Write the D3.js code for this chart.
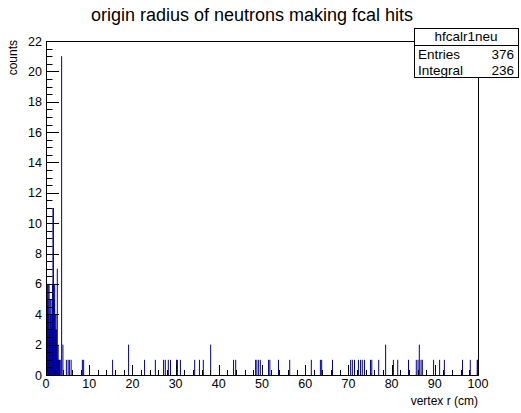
<!DOCTYPE html>
<html>
<head>
<meta charset="utf-8">
<script src="https://cdn.jsdelivr.net/npm/d3@7"></script>
<style>
  html, body { margin: 0; padding: 0; background: #fff; }
  svg { display: block; font-family: "Liberation Sans", Arial, Helvetica, sans-serif; }
</style>
</head>
<body>
<svg id="chart" width="521" height="413"></svg>
<script>
// Histogram hfcalr1neu: bin width 0.1 cm, lower bin edges (cm) and their contents
const binWidth = 0.1;
const binLow = [
  0.0, 0.1, 0.2, 0.3, 0.4, 0.5, 0.6, 0.7, 0.8, 0.9,
  1.0, 1.1, 1.2, 1.3, 1.4, 1.5, 1.6, 1.7, 1.8, 1.9,
  2.0, 2.1, 2.2, 2.3, 2.4, 2.5, 2.6, 2.7, 2.8, 2.9,
  3.0, 3.2, 3.5, 3.8,
  4.6, 5.0, 5.3, 5.7, 8.3, 8.6, 15.3, 19.0, 22.7, 25.2,
  27.1, 27.5, 28.2, 28.7, 30.1, 30.3, 31.0, 34.3, 35.4, 36.3,
  38.0, 43.3, 43.8, 48.4, 48.7, 49.1, 49.5, 51.4, 51.7, 53.7,
  56.3, 61.3, 63.4, 63.7, 66.2, 70.4, 70.8, 71.3, 72.2, 72.7,
  73.1, 73.6, 75.0, 75.3, 76.9, 78.5, 80.3, 81.3, 83.8, 85.6,
  86.0, 86.3, 86.7, 87.0, 89.6, 91.0, 92.1, 96.3, 98.1, 99.7,
  99.8
];
const counts = [
  2, 4, 6, 5, 6, 4, 6, 3, 5, 4,
  5, 3, 4, 5, 6, 11, 11, 6, 5, 6,
  4, 3, 4, 3, 2, 7, 1, 2, 1, 1,
  1, 1, 21, 2,
  1, 1, 1, 1, 1, 1, 1, 2, 1, 1,
  1, 1, 1, 1, 1, 1, 1, 1, 1, 1,
  2, 1, 1, 1, 1, 1, 1, 1, 1, 1,
  1, 1, 1, 1, 1, 1, 1, 1, 1, 1,
  1, 1, 1, 1, 1, 2, 1, 1, 1, 1,
  1, 2, 1, 1, 1, 1, 1, 1, 1, 1,
  1
];

const xTicks = [0, 10, 20, 30, 40, 50, 60, 70, 80, 90, 100];
const yTicks = [0, 2, 4, 6, 8, 10, 12, 14, 16, 18, 20, 22];

const titleText = "origin radius of neutrons making fcal hits";
const xTitle = "vertex r (cm)";
const yTitle = "counts";
const statsName = "hfcalr1neu";
const statsLabels = ["Entries", "Integral"];
const statsValues = ["376", "236"];

const svg = d3.select("#chart");
const frame = { left: 46, right: 478, top: 41, bottom: 375 };

const x = d3.scaleLinear().domain([0, 100]).range([frame.left, frame.right]);
const y = d3.scaleLinear().domain([0, 22]).range([frame.bottom, frame.top]);

const bins = binLow.map((r, i) => ({ r, c: counts[i] }));

// histogram bars
svg.append("g")
  .selectAll("rect")
  .data(bins)
  .join("rect")
  .attr("x", d => x(d.r))
  .attr("width", d => Math.max(1, x(d.r + binWidth) - x(d.r)))
  .attr("y", d => y(d.c))
  .attr("height", d => y(0) - y(d.c))
  .attr("fill", "#00009a");

// frame
svg.append("rect")
  .attr("x", frame.left + 0.5).attr("y", frame.top + 0.5)
  .attr("width", frame.right - frame.left).attr("height", frame.bottom - frame.top)
  .attr("fill", "none").attr("stroke", "#000").attr("stroke-width", 1);

// x axis: ticks point up into the frame
const gx = svg.append("g");
const xMinor = d3.range(0, 100.001, 2);
gx.selectAll("line.minor").data(xMinor).join("line")
  .attr("x1", d => Math.round(x(d)) + 0.5).attr("x2", d => Math.round(x(d)) + 0.5)
  .attr("y1", frame.bottom).attr("y2", d => frame.bottom - (d % 10 === 0 ? 10 : 5))
  .attr("stroke", "#000");
gx.selectAll("text").data(xTicks).join("text")
  .attr("x", d => x(d)).attr("y", frame.bottom + 13)
  .attr("text-anchor", "middle").attr("font-size", 12.5)
  .text(d => d);

// y axis: ticks point right into the frame
const gy = svg.append("g");
const yMinor = d3.range(0, 22.001, 0.5);
gy.selectAll("line").data(yMinor).join("line")
  .attr("x1", frame.left).attr("x2", d => frame.left + (d % 2 === 0 ? 13 : 6.5))
  .attr("y1", d => Math.round(y(d)) + 0.5).attr("y2", d => Math.round(y(d)) + 0.5)
  .attr("stroke", "#000");
gy.selectAll("text").data(yTicks).join("text")
  .attr("x", frame.left - 4).attr("y", d => y(d) + 4.5)
  .attr("text-anchor", "end").attr("font-size", 12.5)
  .text(d => d);

// axis titles
svg.append("text")
  .attr("x", frame.right).attr("y", 405)
  .attr("text-anchor", "end").attr("font-size", 12)
  .text(xTitle);
svg.append("text")
  .attr("transform", `translate(17,${frame.top - 1}) rotate(-90)`)
  .attr("text-anchor", "end").attr("font-size", 12)
  .text(yTitle);

// title
svg.append("text")
  .attr("x", 252).attr("y", 21)
  .attr("text-anchor", "middle").attr("font-size", 18)
  .text(titleText);

// statistics box
const sb = { x: 414, y: 28, w: 104, h: 49, head: 17 };
svg.append("rect")
  .attr("x", sb.x + 0.5).attr("y", sb.y + 0.5)
  .attr("width", sb.w).attr("height", sb.h)
  .attr("fill", "#fff").attr("stroke", "#000");
svg.append("line")
  .attr("x1", sb.x).attr("x2", sb.x + sb.w)
  .attr("y1", sb.y + sb.head + 0.5).attr("y2", sb.y + sb.head + 0.5)
  .attr("stroke", "#000");
svg.append("text")
  .attr("x", sb.x + sb.w / 2).attr("y", sb.y + 13)
  .attr("text-anchor", "middle").attr("font-size", 13.5)
  .text(statsName);
statsLabels.forEach((lab, i) => {
  const ty = sb.y + sb.head + 13.5 + i * 16;
  svg.append("text").attr("x", sb.x + 4).attr("y", ty)
    .attr("font-size", 13.5).text(lab);
  svg.append("text").attr("x", sb.x + sb.w - 4).attr("y", ty)
    .attr("text-anchor", "end").attr("font-size", 13.5).text(statsValues[i]);
});
</script>
</body>
</html>
